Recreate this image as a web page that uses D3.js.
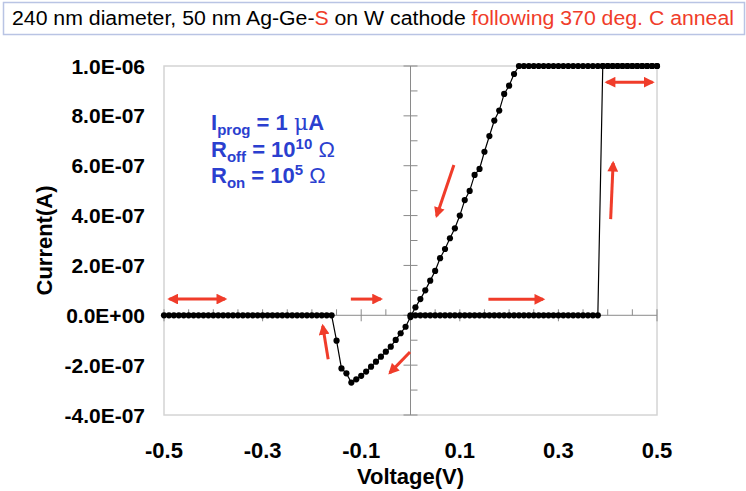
<!DOCTYPE html>
<html>
<head>
<meta charset="utf-8">
<script src="https://cdn.jsdelivr.net/npm/d3@7"></script>
<style>
  html,body{margin:0;padding:0;background:#fff;}
  svg{display:block;}
</style>
</head>
<body>
<div id="chart"></div>
<script>
// sweep voltages (V) and currents (A)
var vOffPos=[0.00,0.01,0.02,0.03,0.04,0.05,0.06,0.07,0.08,0.09,0.10,0.11,0.12,0.13,0.14,0.15,0.16,0.17,0.18,0.19,
	0.20,0.21,0.22,0.23,0.24,0.25,0.26,0.27,0.28,0.29,0.30,0.31,0.32,0.33,0.34,0.35,0.36,0.37,0.38];
var iOff=0;
var vCompliance=[0.22,0.23,0.24,0.25,0.26,0.27,0.28,0.29,0.30,0.31,0.32,0.33,0.34,0.35,0.36,0.37,0.38,0.39,
	0.40,0.41,0.42,0.43,0.44,0.45,0.46,0.47,0.48,0.49,0.50];
var iCompliance=1e-6;
var vSwitch=0.39;
var vRamp=[0.21,0.20,0.19,0.18,0.17,0.16,0.15,0.14,0.13,0.12,0.11,0.10,0.09,0.08,0.07,0.06,0.05,0.04,0.03,0.02,0.01,
	0.00,-0.01,-0.02,-0.03,-0.04,-0.05,-0.06,-0.07,-0.08,-0.09,-0.10,-0.11,-0.12,-0.13,-0.14,-0.15];
var iRamp=[9.68e-7,9.21e-7,8.88e-7,8.21e-7,7.81e-7,7.19e-7,6.56e-7,5.87e-7,5.63e-7,4.99e-7,4.62e-7,4.00e-7,
	3.49e-7,3.09e-7,2.66e-7,2.29e-7,1.78e-7,1.39e-7,1.00e-7,0.65e-7,0.32e-7,
	-0.07e-7,-0.46e-7,-0.72e-7,-0.99e-7,-1.26e-7,-1.46e-7,-1.66e-7,-1.86e-7,-2.06e-7,-2.26e-7,-2.43e-7,
	-2.57e-7,-2.70e-7,-2.33e-7,-2.13e-7,-1.02e-7];
var vOffNeg=[-0.16,-0.17,-0.18,-0.19,-0.20,-0.21,-0.22,-0.23,-0.24,-0.25,-0.26,-0.27,-0.28,-0.29,-0.30,-0.31,
	-0.32,-0.33,-0.34,-0.35,-0.36,-0.37,-0.38,-0.39,-0.40,-0.41,-0.42,-0.43,-0.44,-0.45,-0.46,-0.47,-0.48,-0.49,-0.50];

var xTicks=[-0.5,-0.3,-0.1,0.1,0.3,0.5];
var xTickLabels=['-0.5','-0.3','-0.1','0.1','0.3','0.5'];
var xMinor=[-0.45,-0.4,-0.35,-0.25,-0.2,-0.15,-0.05,0,0.05,0.15,0.2,0.25,0.35,0.4,0.45];
var yTicks=[1e-6,8e-7,6e-7,4e-7,2e-7,0,-2e-7,-4e-7];
var yTickLabels=['1.0E-06','8.0E-07','6.0E-07','4.0E-07','2.0E-07','0.0E+00','-2.0E-07','-4.0E-07'];
var yMinor=[9e-7,7e-7,5e-7,3e-7,1e-7,-1e-7,-3e-7];

// red arrows: [v1,i1,v2,i2,double-headed]
var arrows=[
	[0.398,9.35e-7,0.491,9.35e-7,true],
	[0.406,3.86e-7,0.411,6.11e-7,false],
	[0.088,6.03e-7,0.053,3.98e-7,false],
	[-0.001,-1.47e-7,-0.042,-2.31e-7,false],
	[-0.167,-1.76e-7,-0.178,-0.43e-7,false],
	[-0.121,0.65e-7,-0.060,0.65e-7,false],
	[-0.489,0.65e-7,-0.376,0.65e-7,true],
	[0.158,0.64e-7,0.269,0.64e-7,false]
];

var W=746,H=491,
	red='#f03c2a',
	blue='#2b3fcf',
	font='"Liberation Sans",Arial,sans-serif';

var svg=d3.select('#chart').append('svg')
	.attr('width',W).attr('height',H)
	.attr('font-family',font);

var x=d3.scaleLinear().domain([-0.5,0.5]).range([164,657]);
var y=d3.scaleLinear().domain([-4e-7,1e-6]).range([415,66]);

// title box
svg.append('rect')
	.attr('x',3.5).attr('y',2.5).attr('width',741).attr('height',32)
	.attr('fill','#fff').attr('stroke','#b9c4e4').attr('stroke-width',1.5);
var title=svg.append('text')
	.attr('x',12).attr('y',25)
	.attr('font-size',20)
	.attr('textLength',722).attr('lengthAdjust','spacingAndGlyphs');
title.append('tspan').attr('fill','#000').text('240 nm diameter, 50 nm Ag-Ge-');
title.append('tspan').attr('fill',red).text('S');
title.append('tspan').attr('fill','#000').text(' on W cathode ');
title.append('tspan').attr('fill',red).text('following 370 deg. C anneal');

// plot frame
svg.append('rect')
	.attr('x',x(-0.5)).attr('y',y(1e-6))
	.attr('width',x(0.5)-x(-0.5)).attr('height',y(-4e-7)-y(1e-6))
	.attr('fill','none').attr('stroke','#d4d4d4').attr('stroke-width',1.5);

// axes through the origin
var gAxis=svg.append('g').attr('stroke','#8a8a8a').attr('stroke-width',1);
gAxis.append('line')
	.attr('x1',x(-0.5)).attr('x2',x(0.5))
	.attr('y1',y(0)).attr('y2',y(0));
gAxis.append('line')
	.attr('x1',x(0)).attr('x2',x(0))
	.attr('y1',y(1e-6)).attr('y2',y(-4e-7));
gAxis.selectAll('.xmaj').data(xTicks).enter().append('line')
	.attr('x1',function(d){return x(d)}).attr('x2',function(d){return x(d)})
	.attr('y1',y(0)-6).attr('y2',y(0)+6);
gAxis.selectAll('.xmin').data(xMinor).enter().append('line')
	.attr('x1',function(d){return x(d)}).attr('x2',function(d){return x(d)})
	.attr('y1',y(0)-6).attr('y2',y(0));
gAxis.selectAll('.ymaj').data(yTicks).enter().append('line')
	.attr('x1',x(0)-7).attr('x2',x(0)+7)
	.attr('y1',function(d){return y(d)}).attr('y2',function(d){return y(d)});
gAxis.selectAll('.ymin').data(yMinor).enter().append('line')
	.attr('x1',x(0)).attr('x2',x(0)+7)
	.attr('y1',function(d){return y(d)}).attr('y2',function(d){return y(d)});

// tick labels
svg.append('g').selectAll('text').data(yTicks).enter().append('text')
	.attr('x',145).attr('y',function(d){return y(d)})
	.attr('dy','0.36em')
	.attr('text-anchor','end')
	.attr('font-size',21).attr('font-weight','bold')
	.text(function(d,i){return yTickLabels[i]});
svg.append('g').selectAll('text').data(xTicks).enter().append('text')
	.attr('x',function(d){return x(d)}).attr('y',458)
	.attr('text-anchor','middle')
	.attr('font-size',22).attr('font-weight','bold')
	.text(function(d,i){return xTickLabels[i]});

// axis titles
svg.append('text')
	.attr('x',x(0)).attr('y',484)
	.attr('text-anchor','middle')
	.attr('font-size',22).attr('font-weight','bold')
	.text('Voltage(V)');
svg.append('text')
	.attr('transform','translate(52,'+((y(1e-6)+y(-4e-7))/2)+') rotate(-90)')
	.attr('text-anchor','middle')
	.attr('font-size',22).attr('font-weight','bold')
	.text('Current(A)');

// sweep path in measurement order
var pts=[],i;
for(i=0;i<vOffPos.length;i++) pts.push([vOffPos[i],iOff]);
for(i=0;i<vCompliance.length;i++) if(vCompliance[i]>=vSwitch) pts.push([vCompliance[i],iCompliance]);
for(i=vCompliance.length-1;i>=0;i--) pts.push([vCompliance[i],iCompliance]);
for(i=0;i<vRamp.length;i++) pts.push([vRamp[i],iRamp[i]]);
for(i=0;i<vOffNeg.length;i++) pts.push([vOffNeg[i],iOff]);

var line=d3.line().x(function(d){return x(d[0])}).y(function(d){return y(d[1])});
svg.append('path')
	.attr('d',line(pts))
	.attr('fill','none').attr('stroke','#000').attr('stroke-width',1.2);
svg.append('g').selectAll('circle').data(pts).enter().append('circle')
	.attr('cx',function(d){return x(d[0])})
	.attr('cy',function(d){return y(d[1])})
	.attr('r',3.1)
	.attr('fill','#000');

// red arrows
var defs=svg.append('defs');
defs.append('marker')
	.attr('id','head').attr('viewBox','0 0 10 10')
	.attr('refX',8).attr('refY',5)
	.attr('markerWidth',3.8).attr('markerHeight',3.6)
	.attr('orient','auto-start-reverse')
	.append('path').attr('d','M0,0L10,5L0,10z').attr('fill',red);
svg.append('g').selectAll('line').data(arrows).enter().append('line')
	.attr('x1',function(d){return x(d[0])}).attr('y1',function(d){return y(d[1])})
	.attr('x2',function(d){return x(d[2])}).attr('y2',function(d){return y(d[3])})
	.attr('stroke',red).attr('stroke-width',3)
	.attr('marker-end','url(#head)')
	.attr('marker-start',function(d){return d[4]?'url(#head)':null});

// blue note
var note=svg.append('g')
	.attr('fill',blue).attr('font-size',22).attr('font-weight','bold');
var t1=note.append('text').attr('x',211).attr('y',130);
t1.append('tspan').text('I');
t1.append('tspan').attr('font-size',15).attr('dy',5).text('prog');
t1.append('tspan').attr('dy',-5).text(' = 1 ');
t1.append('tspan').attr('font-weight','normal').attr('font-family','"DejaVu Serif",serif').text('\u03bc');
t1.append('tspan').text('A');
var t2=note.append('text').attr('x',211).attr('y',157);
t2.append('tspan').text('R');
t2.append('tspan').attr('font-size',15).attr('dy',5).text('off');
t2.append('tspan').attr('dy',-5).text(' = 10');
t2.append('tspan').attr('font-size',15).attr('dy',-8).text('10');
t2.append('tspan').attr('dy',8).attr('font-weight','normal').text(' \u03a9');
var t3=note.append('text').attr('x',211).attr('y',183);
t3.append('tspan').text('R');
t3.append('tspan').attr('font-size',15).attr('dy',5).text('on');
t3.append('tspan').attr('dy',-5).text(' = 10');
t3.append('tspan').attr('font-size',15).attr('dy',-8).text('5');
t3.append('tspan').attr('dy',8).attr('font-weight','normal').text(' \u03a9');
</script>
</body>
</html>
